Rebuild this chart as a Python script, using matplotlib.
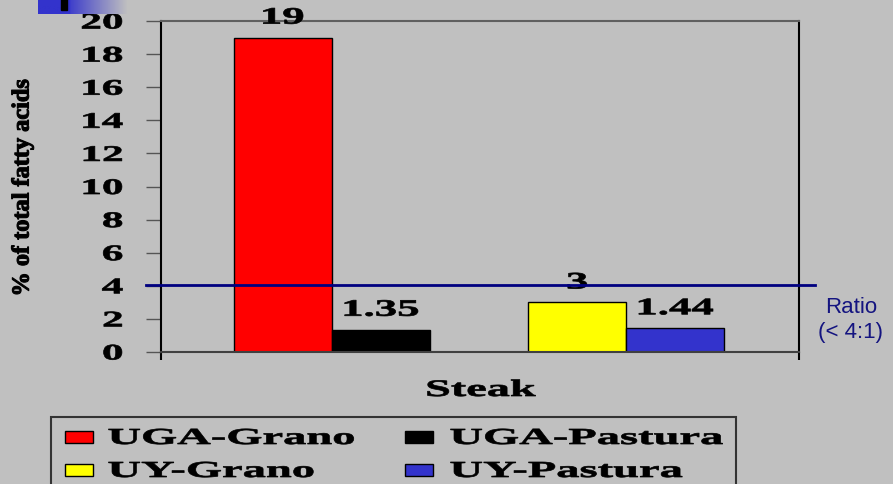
import matplotlib
matplotlib.use("Agg")
import matplotlib.pyplot as plt
import numpy as np
from matplotlib.patches import Rectangle
from matplotlib.colors import LinearSegmentedColormap
from matplotlib.patheffects import AbstractPathEffect
from matplotlib.transforms import Affine2D

# data
series = ["UGA-Grano", "UGA-Pastura", "UY-Grano", "UY-Pastura"]
values = [19, 1.35, 3, 1.44]
value_labels = ["19", "1.35", "3", "1.44"]
colors = ["#FF0000", "#000000", "#FFFF00", "#3333CC"]
category = "Steak"
ratio_limit = 4.05
yticks = [0, 2, 4, 6, 8, 10, 12, 14, 16, 18, 20]

BG = "#C0C0C0"
NAVY = "#000080"
SERIF = "Liberation Serif"
W, H = 893, 485


class StretchX(AbstractPathEffect):
    """Draw text stretched horizontally (the original slide is widened)."""

    def __init__(self, sx, anchor="center", stroke=0.5):
        super().__init__()
        self.sx = sx
        self.anchor = anchor
        self.stroke = stroke

    def draw_path(self, renderer, gc, tpath, affine, rgbFace=None):
        ext = tpath.get_extents(affine)
        if self.anchor == "left":
            x0 = ext.x0
        elif self.anchor == "right":
            x0 = ext.x1
        else:
            x0 = (ext.x0 + ext.x1) / 2
        stretch = Affine2D().translate(-x0, 0).scale(self.sx, 1).translate(x0, 0)
        gc0 = renderer.new_gc()
        gc0.copy_properties(gc)
        gc0.set_linewidth(self.stroke)
        gc0.set_foreground(rgbFace)
        renderer.draw_path(gc0, tpath, affine + stretch, rgbFace)
        gc0.restore()


def fx(x):
    return x / W


def fy(y):
    return 1 - y / H


fig = plt.figure(figsize=(W / 100, H / 100), dpi=100, facecolor=BG)
ax = fig.add_axes([fx(161), fy(353), 638 / W, 331 / H])
ax.set_facecolor(BG)

# two pairs of bars with a one-bar gap in between
positions = [0, 1, 3, 4]
ax.bar(positions, values, width=1.0, color=colors, edgecolor="black",
       linewidth=1)
for x, v, lab in zip(positions, values, value_labels):
    t = ax.annotate(lab, (x, v), xytext=(0, 10), textcoords="offset points",
                    ha="center", va="baseline", fontsize=17,
                    fontweight="bold", family=SERIF)
    t.set_path_effects([StretchX(1.9)])

ax.set_xlim(-1.24, 5.26)
ax.set_ylim(0, 20)
ax.set_yticks(yticks)
ax.set_yticklabels([str(t) for t in yticks], fontsize=16, fontweight="bold",
                   family=SERIF)
for lab in ax.get_yticklabels():
    lab.set_path_effects([StretchX(1.95, "right")])
ax.tick_params(axis="y", direction="out", length=11, width=1, color="#555555",
               pad=16.5)
ax.set_xticks([-1.24, 5.26])
ax.set_xticklabels(["", ""])
ax.tick_params(axis="x", direction="out", length=6, width=1.5, color="black")

for side in ["left", "right"]:
    ax.spines[side].set_color("black")
    ax.spines[side].set_linewidth(1.5)
ax.spines["top"].set_color("#606060")
ax.spines["bottom"].set_color("#404040")
ax.spines["top"].set_linewidth(1.5)
ax.spines["bottom"].set_linewidth(1.5)

# ratio threshold line, running past both spines
ax.axhline(ratio_limit, xmin=-0.024, xmax=1.025, color=NAVY, linewidth=2,
           clip_on=False, zorder=5)
fig.text(fx(851), fy(320), "Ratio\n(< 4:1)", ha="center", va="center",
         color="#141480", fontsize=16, family="Liberation Sans",
         linespacing=1.2)

t = fig.text(fx(481), fy(397), category, ha="center", va="baseline",
             fontsize=17, fontweight="bold", family=SERIF)
t.set_path_effects([StretchX(1.96)])
t = fig.text(fx(23), fy(189), "% of total fatty acids", rotation=90,
             ha="center", va="center", fontsize=17.5, fontweight="bold",
             family=SERIF)
t.set_path_effects([StretchX(1.0, stroke=0.8)])

# legend, laid out row by row like the original
fig.add_artist(Rectangle((fx(51), fy(490)), 685 / W, 72 / H,
                         transform=fig.transFigure, facecolor="none",
                         edgecolor="#333333", linewidth=1.5))
handle_x = [65, 405]
text_x = [108, 450]
row_base = [445, 478]
for i, (name, c) in enumerate(zip(series, colors)):
    row, col = divmod(i, 2)
    fig.add_artist(Rectangle((fx(handle_x[col]), fy(row_base[row] - 1)),
                             28 / W, 12 / H, transform=fig.transFigure,
                             facecolor=c, edgecolor="black", linewidth=1))
    t = fig.text(fx(text_x[col]), fy(row_base[row]), name, ha="left",
                 va="baseline", fontsize=16.5, fontweight="bold",
                 family=SERIF)
    t.set_path_effects([StretchX(2.03, "left")])

# top-left slide decoration
deco = fig.add_axes([fx(38), fy(15), 89 / W, 15 / H])
deco.axis("off")
cmap = LinearSegmentedColormap.from_list("deco", ["#3333CC", BG], N=256)
grad = np.concatenate([np.zeros(32), np.linspace(0.1, 1, 57)])
deco.imshow(grad[None, :], aspect="auto", cmap=cmap, vmin=0, vmax=1,
            extent=(0, 89, 0, 15))
deco.add_patch(Rectangle((23, 4), 6, 11, color="black"))
deco.set_xlim(0, 89)
deco.set_ylim(0, 15)

fig.savefig("out.png", dpi=100, facecolor=BG)
